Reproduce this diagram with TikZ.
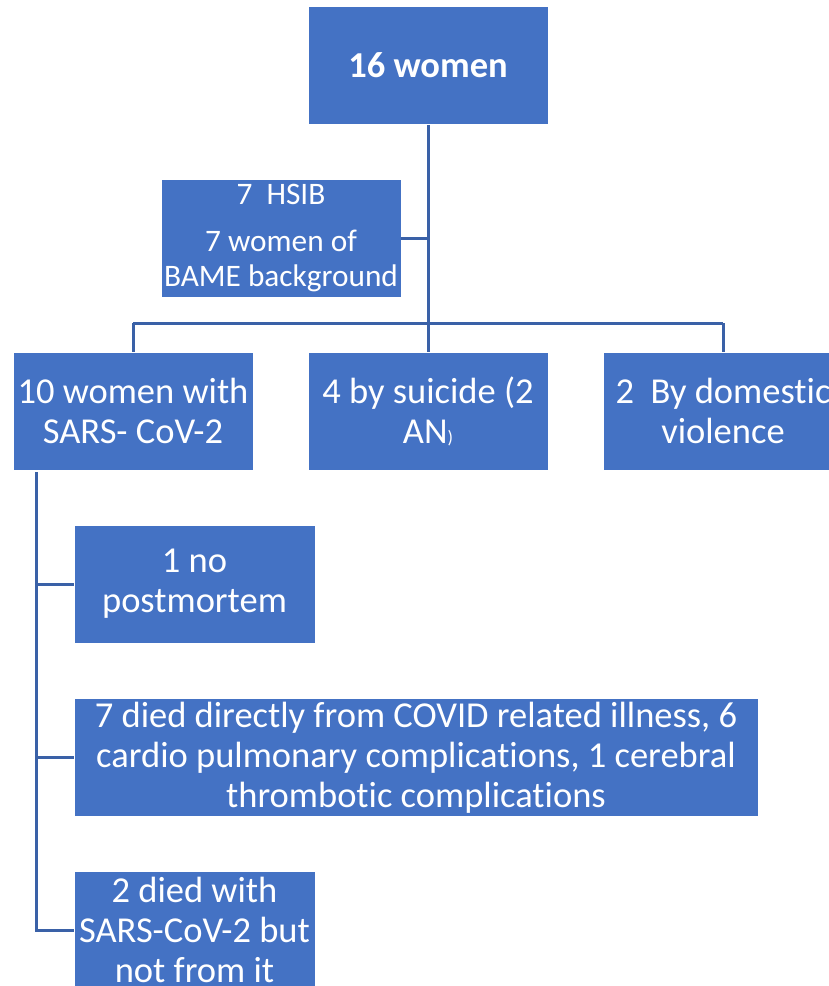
\documentclass[tikz,border=0pt]{standalone}
\usepackage{fontspec}
\setmainfont[Ligatures=NoCommon]{Carlito}
\usepackage{xcolor}
\usepackage{tikz}

\definecolor{boxblue}{HTML}{4472C4}
\definecolor{lineblue}{HTML}{3A61A7}

\tikzset{
  box/.style={fill=boxblue, draw=white, line width=0.8pt, text=white,
    align=center, minimum width=240pt, minimum height=118pt, inner sep=0pt,
    font=\fontsize{36.5}{40}\selectfont},
  link/.style={lineblue, line width=3pt},
}

\begin{document}
\begin{tikzpicture}[x=1pt, y=-1pt]
\useasboundingbox (0,0) rectangle (828,986);
\node[box, font=\bfseries\fontsize{36.5}{40}\selectfont] (top) at (428,65.5) {16 women};
\node[box, font=\fontsize{31.3}{34.5}\selectfont] (hsib) at (281,238) {7~~HSIB\\[13pt]7 women of\\BAME background};
\node[box] (covid) at (133,411) {10 women with\\SARS- CoV-2};
\node[box] (sui)   at (428,411) {4 by suicide (2\\AN{\fontsize{18}{20}\selectfont)}};
\node[box] (dv)    at (723,411) {2~~By domestic\\violence};
\node[box, minimum width=241pt] (nopm) at (194.5,584) {1 no\\postmortem};
\node[box, minimum width=684pt] (direct) at (416,757.5) {7 died directly from COVID related illness, 6\\cardio pulmonary complications, 1 cerebral\\thrombotic complications};
\node[box, minimum width=241pt] (with) at (194.5,930) {2 died with\\SARS-CoV-2 but\\not from it};
\coordinate (bar) at (428,323);
\coordinate (spine) at (36,472);
\draw[link] (top.south) -- (bar);
\draw[link] (hsib.east) -- (hsib.east -| top.south);
\draw[link] (covid.north |- bar) -- (dv.north |- bar);
\foreach \n in {covid,sui,dv}{
    \draw[link] (\n.north |- bar) -- (\n.north);
}
\draw[link] (spine) |- (with.west);
\foreach \n in {nopm,direct}{
    \draw[link] (spine |- \n.west) -- (\n.west);
}
\end{tikzpicture}
\end{document}
